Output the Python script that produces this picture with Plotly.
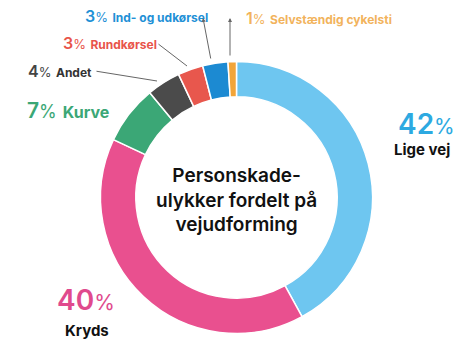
import plotly.graph_objects as go

categories = ["Lige vej", "Kryds", "Kurve", "Andet", "Rundkørsel", "Ind- og udkørsel", "Selvstændig cykelsti"]
values = [42, 40, 7, 4, 3, 3, 1]
slice_colors = ["#6EC6F0", "#E9508F", "#3BA776", "#4B4B4B", "#E8574D", "#1C8AD2", "#F2A53A"]
center_title = "Personskade-<br>ulykker fordelt på<br>vejudforming"

W, H = 460, 346
cx, cy, R = 236.5, 197.5, 136

fig = go.Figure()
fig.add_trace(go.Pie(
    values=values, labels=categories, sort=False, direction="clockwise", rotation=0,
    hole=0.74, marker=dict(colors=slice_colors, line=dict(color="white", width=1.5)),
    textinfo="none", hoverinfo="label+percent", showlegend=False,
    domain=dict(x=[(cx - R) / W, (cx + R) / W], y=[(H - cy - R) / H, (H - cy + R) / H]),
))

FONT = "Inter"
ann = []
def pct(v, big, small):
    return (f"<span style='font-size:{big}px;font-weight:600'>{v}</span>"
            f"<span style='font-size:{small}px'>%</span>")

# big labels
ann.append(dict(x=396, y=124, xanchor="left", text=pct(values[0], 28, 21),
                font=dict(color="#2DA9E1", family=FONT, size=28)))
ann.append(dict(x=422, y=149, xanchor="center", text="<b>" + categories[0] + "</b>",
                font=dict(color="#111", family=FONT, size=15)))
ann.append(dict(x=86, y=300, xanchor="center", text=pct(values[1], 28, 21),
                font=dict(color="#E04A8D", family=FONT, size=28)))
ann.append(dict(x=87, y=330, xanchor="center", text="<b>" + categories[1] + "</b>",
                font=dict(color="#111", family=FONT, size=15)))
# small labels
small = [
    (2, 25, 110, "#3BA776", 21, 16, "#3BA776"),
    (3, 26, 71, "#444444", 16, 12, "#333333"),
    (4, 61, 43, "#E8544A", 16, 12, "#E8544A"),
    (5, 83, 16, "#1E90D6", 16, 12, "#1E90D6"),
    (6, 244, 18, "#F2B35C", 16, 12, "#F2B35C"),
]
for i, x, y, c, bs, ls, lc in small:
    txt = (f"<span style='font-size:{bs}px;color:{c};font-weight:600'>{values[i]}</span>"
           f"<span style='font-size:{bs - 3}px;color:{c}'>%</span> "
           f"<span style='font-size:{ls}px;color:{lc}'><b>{categories[i]}</b></span>")
    ann.append(dict(x=x, y=y, xanchor="left", text=txt, font=dict(family=FONT, size=bs, color=c)))

# center title
ann.append(dict(x=cx, y=200, xanchor="center", yanchor="middle", text=center_title,
                font=dict(family=FONT, size=19, color="#111", weight=600)))

for a in ann:
    a.update(xref="x", yref="y", showarrow=False)

# leader lines with arrows
for (hx, hy, tx, ty, head) in [(157, 81, 95, 71, 0), (187, 66, 157, 43, 0),
                                (203, 18, 211, 60, 2), (230, 18, 230, 57, 2)]:
    ann.append(dict(x=hx, y=hy, ax=tx, ay=ty, xref="x", yref="y", axref="x", ayref="y",
                    text="", showarrow=True, arrowhead=head, arrowsize=0.8,
                    arrowwidth=1, arrowcolor="#666666"))

fig.update_layout(
    width=W, height=H, margin=dict(l=0, r=0, t=0, b=0),
    paper_bgcolor="white", plot_bgcolor="rgba(0,0,0,0)",
    xaxis=dict(range=[0, W], visible=False, domain=[0, 1], fixedrange=True),
    yaxis=dict(range=[H, 0], visible=False, domain=[0, 1], fixedrange=True),
    annotations=ann,
)
fig.write_html("out.html")
